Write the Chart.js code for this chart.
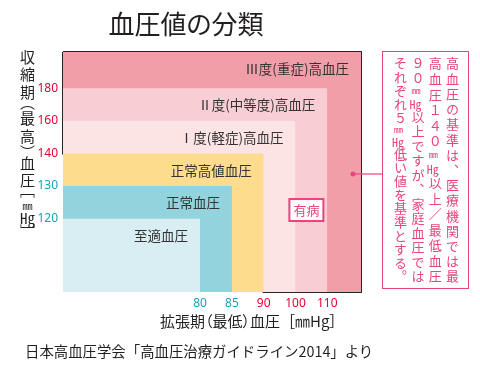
<!DOCTYPE html>
<html lang="ja">
<head>
<meta charset="utf-8">
<script src="https://cdn.jsdelivr.net/npm/chart.js@4.4.1/dist/chart.umd.min.js"></script>
<style>
  html, body { margin: 0; padding: 0; background: #fff; }
  #wrap { position: relative; width: 480px; height: 369px; overflow: hidden; font-family: "Noto Sans CJK JP", sans-serif; }
  #wrap canvas { position: absolute; left: 0; top: 0; }
  .txt { position: absolute; color: #231f20; white-space: nowrap; font-feature-settings: "palt"; }
  #title { left: 0; width: 372px; top: 8px; text-align: center; font-size: 26px; line-height: 30px; }
  #xtitle { left: 160px; top: 311px; font-size: 15px; line-height: 20px; }
  #footer { left: 25px; top: 341px; font-size: 14.4px; line-height: 20px; font-feature-settings: normal; }
  #ytitle { left: 19px; top: 50px; writing-mode: vertical-rl; font-size: 15px; line-height: 16px;
            letter-spacing: 2.2px; font-feature-settings: "vpal"; }
  .tcy { text-combine-upright: all; }
  .mm { text-combine-upright: all; font-size: 10px; }
  #note { position: absolute; left: 382px; top: 51px; width: 87px; height: 238px; box-sizing: border-box;
          border: 1.5px solid #e8457a; padding: 5px 7px 5px 0; writing-mode: vertical-rl;
          font-size: 13px; line-height: 17.3px; color: #e8457a; text-align: justify; text-align-last: justify; }
  #note .tcy { font-size: 12px; }
  #note .mm { font-size: 9px; }
</style>
</head>
<body>
<div id="wrap">
  <canvas id="bpChart" width="480" height="369"></canvas>
  <div class="txt" id="title">血圧値の分類</div>
  <div class="txt" id="ytitle">収縮期（最高）血圧［<span class="mm">mm</span><span class="tcy">Hg</span>］</div>
  <div class="txt" id="xtitle">拡張期（最低）血圧&ensp;［㎜Hg］</div>
  <div class="txt" id="footer">日本高血圧学会「高血圧治療ガイドライン2014」より</div>
  <div id="note">高血圧の基準は、医療機関では最<br>高血圧１４０<span class="mm">mm</span><span class="tcy">Hg</span>以上／最低血圧<br>９０<span class="mm">mm</span><span class="tcy">Hg</span>以上ですが、家庭血圧では<br>それぞれ５<span class="mm">mm</span><span class="tcy">Hg</span>低い値を基準とする。</div>
</div>
<script>
// 分類の境界 (拡張期 / 収縮期)。区分 k の上限は目盛 k、最後の区分は上限なし
const diastolicTicks = ['80', '85', '90', '100', '110'];
const systolicTicks = ['120', '130', '140', '160', '180'];
const categories = ['至適血圧', '正常血圧', '正常高値血圧', 'Ⅰ度(軽症)高血圧', 'Ⅱ度(中等度)高血圧', 'Ⅲ度(重症)高血圧'];
const hypertensionFrom = 3; // Ⅰ度以上 = 高血圧 (140/90 以上)

const fillColors = ['#d9eef3', '#93d3dd', '#fddc8e', '#fce4e5', '#f8cdd4', '#f29ea8'];
const TEAL = '#1aa0b9';
const RED = '#e60033';
const PINK = '#e8457a';

// 目盛の間隔は等間隔の模式図
const X_MIN = -4.31, X_MAX = 5.06;
const Y_MIN = -2.25, Y_MAX = 5.11;

function upperX(k) { return k < diastolicTicks.length ? k : X_MAX; }
function upperY(k) { return k < systolicTicks.length ? k : Y_MAX; }

const areaSets = categories.map((name, k) => ({
    label: name,
    data: [{x: X_MIN, y: upperY(k)}, {x: upperX(k), y: upperY(k)}],
    backgroundColor: fillColors[k],
    borderWidth: 0,
    pointRadius: 0,
    fill: 'start'
}));

const edge = hypertensionFrom - 1;
const outline = {
    label: '有病',
    data: [
        {x: X_MIN, y: Y_MAX}, {x: X_MIN, y: edge}, {x: edge, y: edge}, {x: edge, y: Y_MIN},
        {x: X_MAX, y: Y_MIN}, {x: X_MAX, y: Y_MAX}, {x: X_MIN, y: Y_MAX}
    ],
    borderColor: '#2a2627',
    borderWidth: 2,
    pointRadius: 0,
    fill: false,
    clip: false
};

const labelsPlugin = {
    id: 'areaLabels',
    afterDatasetsDraw(chart) {
        const ctx = chart.ctx;
        const xs = chart.scales.x, ys = chart.scales.y;
        ctx.save();
        ctx.font = '13.5px "Noto Sans CJK JP"';
        ctx.fillStyle = '#333';
        ctx.textAlign = 'right';
        ctx.textBaseline = 'middle';
        categories.forEach((name, k) => {
            const right = xs.getPixelForValue(upperX(k));
            const top = ys.getPixelForValue(upperY(k));
            ctx.fillText(name, right - 12, top + 17);
        });

        // 有病 box
        const cx = (xs.getPixelForValue(3) + xs.getPixelForValue(4)) / 2 - 5;
        const cy = ys.getPixelForValue(1) + 24;
        ctx.fillStyle = '#fff';
        ctx.fillRect(cx - 17, cy - 11, 34, 22);
        ctx.strokeStyle = PINK;
        ctx.lineWidth = 2;
        ctx.strokeRect(cx - 17, cy - 11, 34, 22);
        ctx.fillStyle = PINK;
        ctx.textAlign = 'center';
        ctx.font = '13px "Noto Sans CJK JP"';
        ctx.fillText('有病', cx, cy + 0.5);

        // connector to the note
        const area = chart.chartArea;
        const dy = 174;
        ctx.strokeStyle = PINK;
        ctx.lineWidth = 1.2;
        ctx.beginPath();
        ctx.moveTo(area.right - 8, dy);
        ctx.lineTo(382, dy);
        ctx.stroke();
        ctx.beginPath();
        ctx.arc(area.right - 8, dy, 2.5, 0, Math.PI * 2);
        ctx.fill();
        ctx.restore();
    }
};

new Chart(document.getElementById('bpChart'), {
    type: 'line',
    data: {datasets: [...areaSets, outline]},
    plugins: [labelsPlugin],
    options: {
        responsive: false,
        animation: false,
        layout: {padding: {left: 0, top: 52, right: 119, bottom: 0}},
        plugins: {legend: {display: false}, tooltip: {enabled: false}},
        elements: {line: {tension: 0}},
        scales: {
            x: {
                type: 'linear',
                min: X_MIN,
                max: X_MAX,
                grid: {display: false, drawTicks: false},
                border: {display: false},
                afterBuildTicks: (s) => { s.ticks = diastolicTicks.map((t, i) => ({value: i})); },
                afterFit: (s) => { s.height = 77; },
                ticks: {
                    padding: 4,
                    font: {family: 'Noto Sans', size: 12},
                    color: (c) => c.index < 2 ? TEAL : RED,
                    callback: (v) => diastolicTicks[v]
                }
            },
            y: {
                type: 'linear',
                min: Y_MIN,
                max: Y_MAX,
                grid: {display: false, drawTicks: false},
                border: {display: false},
                afterBuildTicks: (s) => { s.ticks = systolicTicks.map((t, i) => ({value: i})); },
                afterFit: (s) => { s.width = 63; },
                ticks: {
                    padding: 5,
                    font: {family: 'Noto Sans', size: 12},
                    color: (c) => c.index < 2 ? TEAL : RED,
                    callback: (v) => systolicTicks[v]
                }
            }
        }
    }
});
</script>
</body>
</html>
